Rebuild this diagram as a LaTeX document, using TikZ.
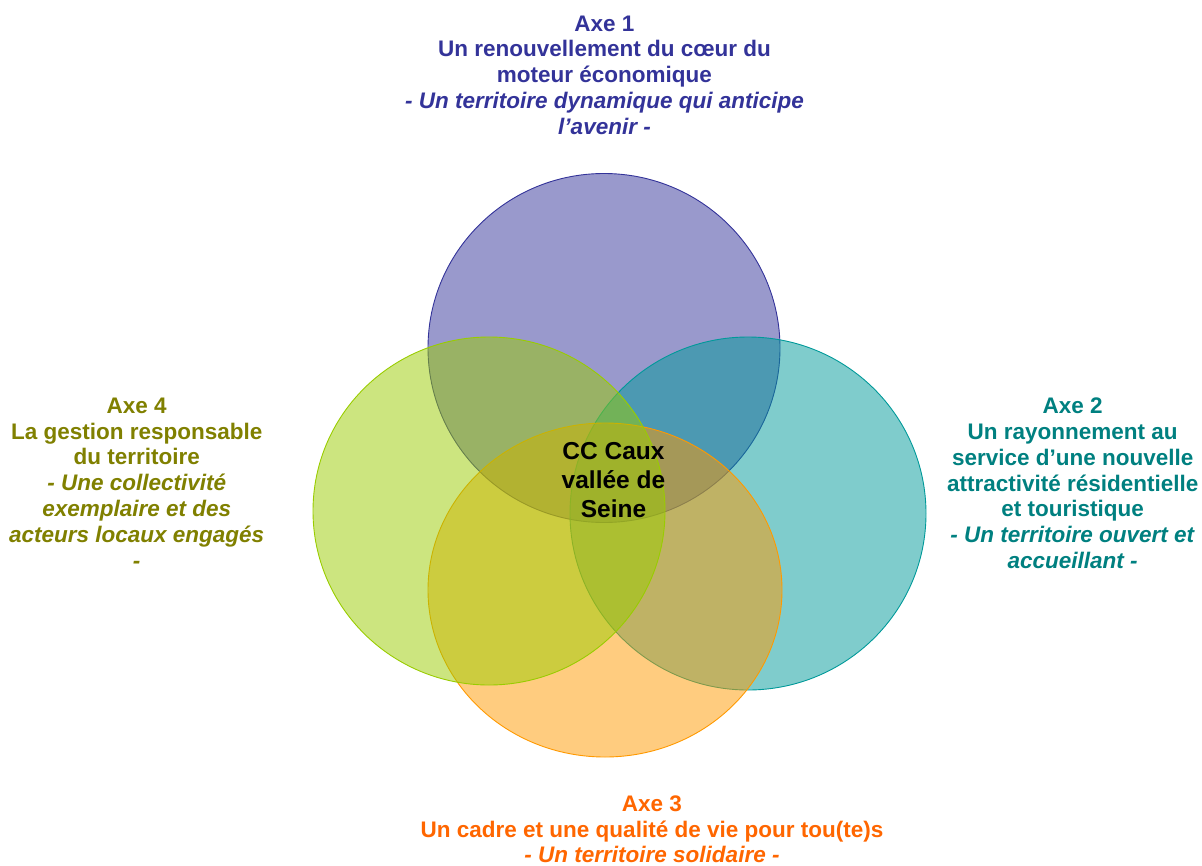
\documentclass[tikz,border=0pt]{standalone}
\usepackage{fontspec}
\setmainfont{Liberation Sans}
\definecolor{cpurple}{HTML}{333399}
\definecolor{cteal}{HTML}{009999}
\definecolor{corange}{HTML}{FF9900}
\definecolor{cgreen}{HTML}{99CC00}
\definecolor{tpurple}{HTML}{333399}
\definecolor{tteal}{HTML}{008080}
\definecolor{torange}{HTML}{FF6600}
\definecolor{tolive}{HTML}{808000}
\tikzset{
  axecircle/.style={fill opacity=0.5, draw opacity=1, line width=0.9bp},
  axetext/.style={anchor=north, align=center, inner sep=0pt,
    font=\fontsize{22.5bp}{25.8bp}\selectfont\bfseries},
  centertext/.style={anchor=north, align=center, inner sep=0pt,
    font=\fontsize{24.5bp}{29bp}\selectfont\bfseries, text=black}
}
\begin{document}
\begin{tikzpicture}[x=1bp,y=-1bp]
\useasboundingbox (0,0) rectangle (1202,866);
% circles
\path[axecircle, draw=cpurple, fill=cpurple] (604,348) ellipse [x radius=176, y radius=174.5];
\path[axecircle, draw=cteal, fill=cteal] (748,513.5) ellipse [x radius=178, y radius=176.5];
\path[axecircle, draw=corange, fill=corange] (605,590) ellipse [x radius=177, y radius=167];
\path[axecircle, draw=cgreen, fill=cgreen] (489,511) ellipse [x radius=176, y radius=174];
% texts
\node[axetext, text=tpurple] (axe1) at (604.5,15.4)
  {Axe 1\\Un renouvellement du cœur du\\moteur économique\\\textit{- Un territoire dynamique qui anticipe}\\\textit{l’avenir -}};
\node[axetext, text=tteal] (axe2) at (1072.7,397.7)
  {Axe 2\\Un rayonnement au\\service d’une nouvelle\\attractivité résidentielle\\et touristique\\\textit{- Un territoire ouvert et}\\\textit{accueillant -}};
\node[axetext, text=torange] (axe3) at (652,795.4)
  {Axe 3\\Un cadre et une qualité de vie pour tou(te)s\\\textit{- Un territoire solidaire -}};
\node[axetext, text=tolive] (axe4) at (136.7,397.7)
  {Axe 4\\La gestion responsable\\du territoire\\\textit{- Une collectivité}\\\textit{exemplaire et des}\\\textit{acteurs locaux engagés}\\\textit{-}};
\node[centertext] (cc) at (613.5,442)
  {CC Caux\\vallée de\\Seine};
\end{tikzpicture}
\end{document}
